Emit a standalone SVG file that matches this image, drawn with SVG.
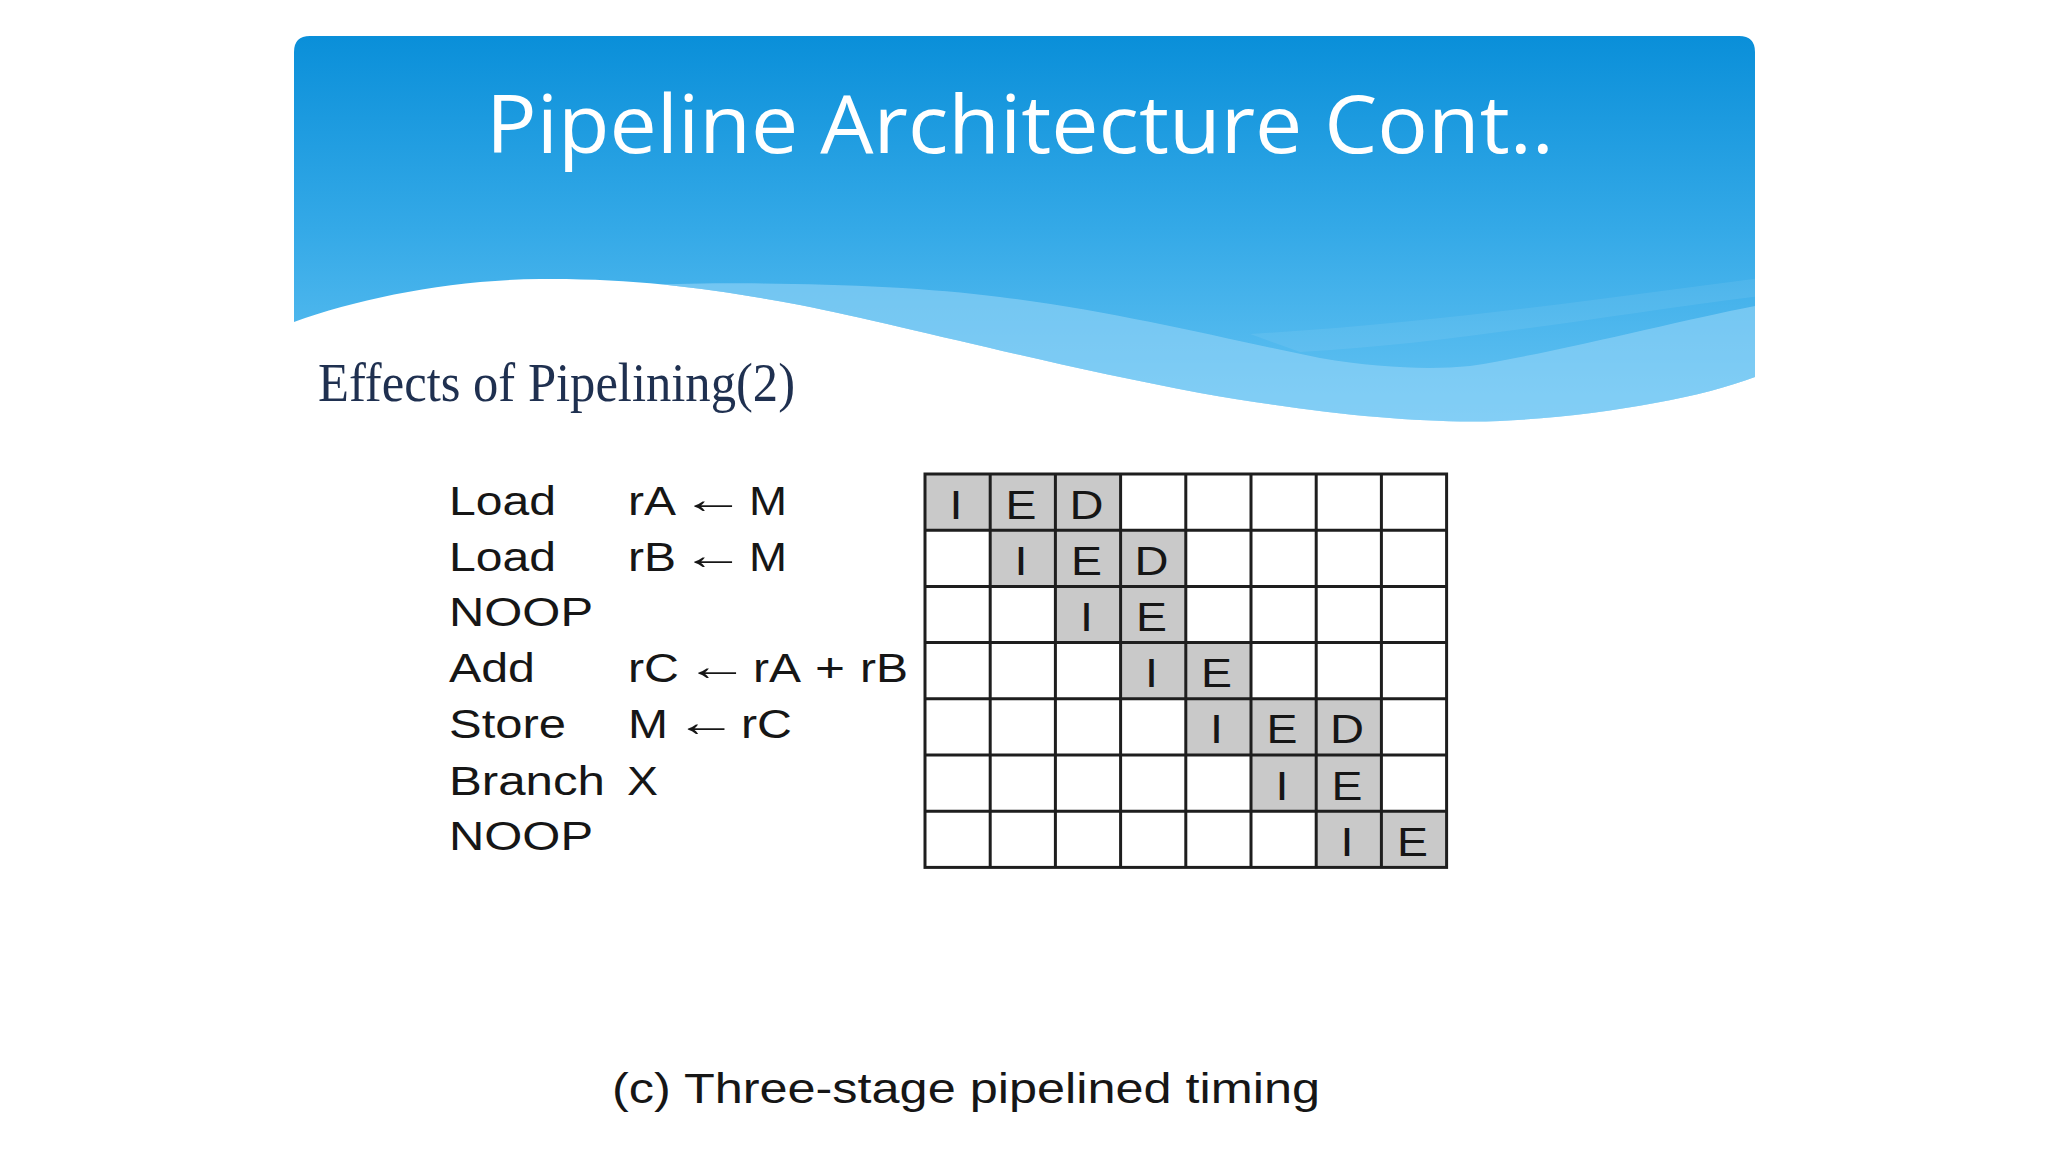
<svg xmlns="http://www.w3.org/2000/svg" width="2048" height="1152" viewBox="0 0 2048 1152">
  <defs>
    <linearGradient id="bannerGrad" gradientUnits="userSpaceOnUse" x1="0" y1="36" x2="0" y2="422">
      <stop offset="0" stop-color="#0a8fd9"/>
      <stop offset="0.5" stop-color="#34a9e7"/>
      <stop offset="1" stop-color="#66c4f3"/>
    </linearGradient>
    <clipPath id="bannerClip">
      <path d="M294,52 Q294,36 310,36 H1739 Q1755,36 1755,52 V377 C1700,398 1600,416 1500,421 C1420,424 1320,414 1200,393 C1050,365 900,325 800,305 C720,290 640,278 540,279 C450,280 360,298 294,322 Z"/>
    </clipPath>
    <style>
      .lbl { font-family: "Liberation Sans", Arial, sans-serif; font-size: 40px; fill: #161616; }
      .arr { font-family: "Liberation Sans", "DejaVu Sans", sans-serif; font-size: 40px; fill: #161616; }
      .cell { fill: #ffffff; }
      .shade { fill: #c9c9c9; }
      .gl { stroke: #1e1e1e; stroke-width: 3; fill: none; }
      .stage { font-family: "Liberation Sans", Arial, sans-serif; font-size: 41px; fill: #161616; text-anchor: middle; }
    </style>
  </defs>

  <rect x="0" y="0" width="2048" height="1152" fill="#ffffff"/>

  <g id="banner">
    <g clip-path="url(#bannerClip)">
      <rect x="290" y="30" width="1470" height="400" fill="url(#bannerGrad)"/>
      <path d="M1250,334 C1450,322 1600,298 1760,278 L1760,296 C1600,316 1450,344 1300,352 Z" fill="#ffffff" fill-opacity="0.07"/>
      <path d="M640,285 C760,281 900,284 1000,297 C1120,312 1220,338 1320,358 C1380,368 1430,370 1470,366 C1560,352 1680,320 1760,305 L1760,440 L640,440 Z" fill="#9ad7f8" fill-opacity="0.55"/>
    </g>
    <text x="486" y="153" font-family="'Open Sans', 'Noto Sans', sans-serif" font-size="80" fill="#ffffff" textLength="1068" lengthAdjust="spacingAndGlyphs">Pipeline Architecture Cont..</text>
  </g>

  <g id="subtitle">
    <text x="318" y="401" font-family="'Liberation Serif', 'Times New Roman', serif" font-size="54" fill="#1f3050" textLength="477" lengthAdjust="spacingAndGlyphs">Effects of Pipelining(2)</text>
  </g>

  <g id="instructions">
    <g id="instr-1">
      <text class="lbl" x="449" y="515" textLength="107" lengthAdjust="spacingAndGlyphs">Load</text>
      <text class="lbl" x="628" y="515" textLength="48" lengthAdjust="spacingAndGlyphs">rA</text>
      <text class="arr" x="681" y="513" textLength="64" lengthAdjust="spacingAndGlyphs">←</text>
      <text class="lbl" x="749" y="515" textLength="38" lengthAdjust="spacingAndGlyphs">M</text>
    </g>
    <g id="instr-2">
      <text class="lbl" x="449" y="571" textLength="107" lengthAdjust="spacingAndGlyphs">Load</text>
      <text class="lbl" x="628" y="571" textLength="48" lengthAdjust="spacingAndGlyphs">rB</text>
      <text class="arr" x="681" y="569" textLength="64" lengthAdjust="spacingAndGlyphs">←</text>
      <text class="lbl" x="749" y="571" textLength="38" lengthAdjust="spacingAndGlyphs">M</text>
    </g>
    <g id="instr-3">
      <text class="lbl" x="449" y="626" textLength="144" lengthAdjust="spacingAndGlyphs">NOOP</text>
    </g>
    <g id="instr-4">
      <text class="lbl" x="449" y="682" textLength="86" lengthAdjust="spacingAndGlyphs">Add</text>
      <text class="lbl" x="628" y="682" textLength="51" lengthAdjust="spacingAndGlyphs">rC</text>
      <text class="arr" x="685" y="680" textLength="64" lengthAdjust="spacingAndGlyphs">←</text>
      <text class="lbl" x="753" y="682" textLength="48" lengthAdjust="spacingAndGlyphs">rA</text>
      <text class="lbl" x="815" y="682" textLength="30" lengthAdjust="spacingAndGlyphs">+</text>
      <text class="lbl" x="860" y="682" textLength="48" lengthAdjust="spacingAndGlyphs">rB</text>
    </g>
    <g id="instr-5">
      <text class="lbl" x="449" y="738" textLength="117" lengthAdjust="spacingAndGlyphs">Store</text>
      <text class="lbl" x="628" y="738" textLength="40" lengthAdjust="spacingAndGlyphs">M</text>
      <text class="arr" x="675" y="736" textLength="62" lengthAdjust="spacingAndGlyphs">←</text>
      <text class="lbl" x="741" y="738" textLength="51" lengthAdjust="spacingAndGlyphs">rC</text>
    </g>
    <g id="instr-6">
      <text class="lbl" x="449" y="795" textLength="156" lengthAdjust="spacingAndGlyphs">Branch</text>
      <text class="lbl" x="627" y="795" textLength="31" lengthAdjust="spacingAndGlyphs">X</text>
    </g>
    <g id="instr-7">
      <text class="lbl" x="449" y="850" textLength="144" lengthAdjust="spacingAndGlyphs">NOOP</text>
    </g>
  </g>

  <g id="timing-grid">
    <rect class="cell" x="925" y="474" width="521.6" height="393.4"/>
    <g id="shaded-cells">
      <rect class="shade" x="925" y="474" width="195.6" height="56.2"/>
      <rect class="shade" x="990.2" y="530.2" width="195.6" height="56.2"/>
      <rect class="shade" x="1055.4" y="586.4" width="130.4" height="56.2"/>
      <rect class="shade" x="1120.6" y="642.6" width="130.4" height="56.2"/>
      <rect class="shade" x="1185.8" y="698.8" width="195.6" height="56.2"/>
      <rect class="shade" x="1251" y="755" width="130.4" height="56.2"/>
      <rect class="shade" x="1316.2" y="811.2" width="130.4" height="56.2"/>
    </g>
    <g id="grid-lines">
      <path class="gl" d="M990.2,474 V867.4 M1055.4,474 V867.4 M1120.6,474 V867.4 M1185.8,474 V867.4 M1251,474 V867.4 M1316.2,474 V867.4 M1381.4,474 V867.4"/>
      <path class="gl" d="M925,530.2 H1446.6 M925,586.4 H1446.6 M925,642.6 H1446.6 M925,698.8 H1446.6 M925,755 H1446.6 M925,811.2 H1446.6"/>
      <rect class="gl" x="925" y="474" width="521.6" height="393.4" stroke="#333333"/>
    </g>
    <g id="stages">
      <text class="stage" x="956" y="518.5" textLength="13" lengthAdjust="spacingAndGlyphs">I</text>
      <text class="stage" x="1021" y="518.5" textLength="31" lengthAdjust="spacingAndGlyphs">E</text>
      <text class="stage" x="1086.5" y="518.5" textLength="34" lengthAdjust="spacingAndGlyphs">D</text>

      <text class="stage" x="1021" y="574.7" textLength="13" lengthAdjust="spacingAndGlyphs">I</text>
      <text class="stage" x="1086.5" y="574.7" textLength="31" lengthAdjust="spacingAndGlyphs">E</text>
      <text class="stage" x="1151.5" y="574.7" textLength="34" lengthAdjust="spacingAndGlyphs">D</text>

      <text class="stage" x="1086.5" y="630.9" textLength="13" lengthAdjust="spacingAndGlyphs">I</text>
      <text class="stage" x="1151.5" y="630.9" textLength="31" lengthAdjust="spacingAndGlyphs">E</text>

      <text class="stage" x="1151.5" y="687.1" textLength="13" lengthAdjust="spacingAndGlyphs">I</text>
      <text class="stage" x="1216.5" y="687.1" textLength="31" lengthAdjust="spacingAndGlyphs">E</text>

      <text class="stage" x="1216.5" y="743.3" textLength="13" lengthAdjust="spacingAndGlyphs">I</text>
      <text class="stage" x="1282" y="743.3" textLength="31" lengthAdjust="spacingAndGlyphs">E</text>
      <text class="stage" x="1347" y="743.3" textLength="34" lengthAdjust="spacingAndGlyphs">D</text>

      <text class="stage" x="1282" y="799.5" textLength="13" lengthAdjust="spacingAndGlyphs">I</text>
      <text class="stage" x="1347" y="799.5" textLength="31" lengthAdjust="spacingAndGlyphs">E</text>

      <text class="stage" x="1347" y="855.7" textLength="13" lengthAdjust="spacingAndGlyphs">I</text>
      <text class="stage" x="1412.5" y="855.7" textLength="31" lengthAdjust="spacingAndGlyphs">E</text>
    </g>
  </g>

  <g id="connectors"></g>

  <g id="caption">
    <text x="612" y="1103" font-family="'Liberation Sans', Arial, sans-serif" font-size="43" fill="#161616" textLength="708" lengthAdjust="spacingAndGlyphs">(c) Three-stage pipelined timing</text>
  </g>
</svg>
